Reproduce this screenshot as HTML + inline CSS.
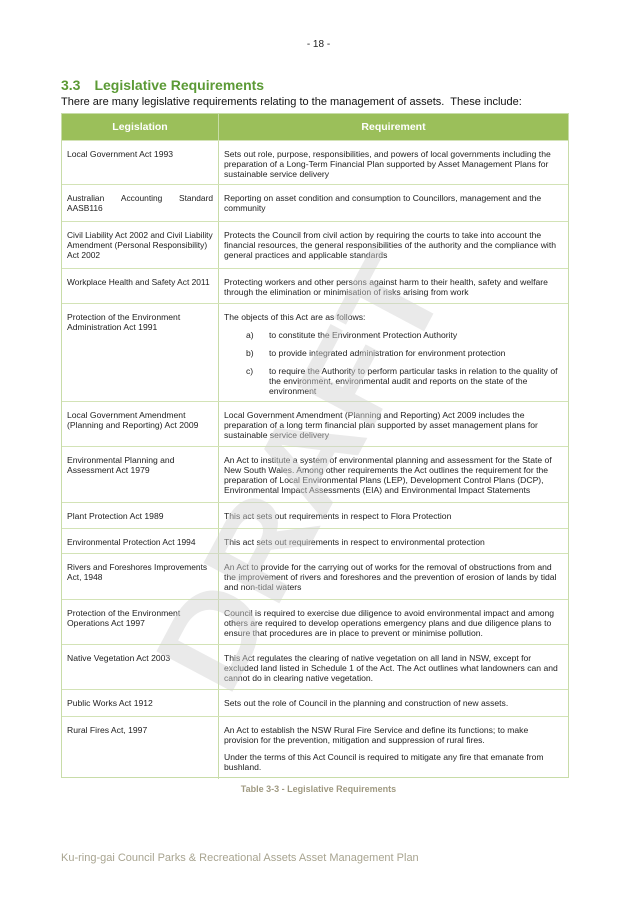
<!DOCTYPE html>
<html><head><meta charset="utf-8"><style>
*{margin:0;padding:0;box-sizing:border-box}
body{width:637px;height:901px;background:#fff;position:relative;overflow:hidden;font-family:"Liberation Sans",sans-serif;color:#222}
.pg{position:absolute;top:39px;left:0;width:637px;text-align:center;font-size:10px}
h2{position:absolute;left:61px;top:77px;font-size:14px;color:#5b9a35;font-weight:bold}
h2 span{margin-left:14px}
.intro{position:absolute;left:61px;top:96px;font-size:11px;color:#111}
.tbl{position:absolute;left:61px;top:113px;width:508px;height:665px;border:1px solid #c8dca8}
.hd{position:absolute;left:0;top:0;width:506px;height:26px;background:#9bbf5a;color:#fff;font-weight:bold;font-size:10.5px}
.hd div{position:absolute;top:7px;text-align:center}
.row{position:absolute;left:0;width:506px;border-top:1.5px solid #d3e3b6;font-size:8.6px;line-height:10px}
.l{position:absolute;left:5px;top:8px;width:152px}
.l2{font-size:8.4px}
.r{position:absolute;left:162px;top:8px;width:336px}
.vl{position:absolute;left:156px;top:0;width:1px;height:665px;background:#c8dca8}
.li{position:relative;padding-left:45px;margin-top:8px}
.li b{font-weight:normal;position:absolute;left:22px}
.cap{position:absolute;top:784px;left:0;width:637px;text-align:center;font-size:9px;font-weight:bold;color:#a09a82}
.ft{position:absolute;left:61px;top:852px;font-size:11px;color:#a8a490}
.wm{position:absolute;left:0;top:0;pointer-events:none}
</style></head><body>
<div class="pg">- 18 -</div>
<h2>3.3<span>Legislative Requirements</span></h2>
<div class="intro">There are many legislative requirements relating to the management of assets.&nbsp; These include:</div>
<div class="tbl">
<div class="hd"><div style="left:0;width:156px">Legislation</div><div style="left:157px;width:349px">Requirement</div></div>
<div class="vl"></div>
<div class="row" style="top:26px;height:44px"><div class="l">Local Government Act 1993</div><div class="r">Sets out role, purpose, responsibilities, and powers of local governments including the preparation of a Long-Term Financial Plan supported by Asset Management Plans for sustainable service delivery</div></div>
<div class="row" style="top:70px;height:37px"><div class="l l2" style="width:146px"><div style="display:flex;justify-content:space-between"><span>Australian</span><span>Accounting</span><span>Standard</span></div>AASB116</div><div class="r">Reporting on asset condition and consumption to Councillors, management and the community</div></div>
<div class="row" style="top:107px;height:47px"><div class="l l2">Civil Liability Act 2002 and Civil Liability Amendment (Personal Responsibility) Act 2002</div><div class="r">Protects the Council from civil action by requiring the courts to take into account the financial resources, the general responsibilities of the authority and the compliance with general practices and applicable standards</div></div>
<div class="row" style="top:154px;height:35px"><div class="l l2">Workplace Health and Safety Act 2011</div><div class="r">Protecting workers and other persons against harm to their health, safety and welfare through the elimination or minimisation of risks arising from work</div></div>
<div class="row" style="top:189px;height:98px"><div class="l">Protection of the Environment Administration Act 1991</div><div class="r">The objects of this Act are as follows:
<div class="li"><b>a)</b>to constitute the Environment Protection Authority</div>
<div class="li"><b>b)</b>to provide integrated administration for environment protection</div>
<div class="li"><b>c)</b>to require the Authority to perform particular tasks in relation to the quality of the environment, environmental audit and reports on the state of the environment</div></div></div>
<div class="row" style="top:287px;height:45px"><div class="l">Local Government Amendment (Planning and Reporting) Act 2009</div><div class="r">Local Government Amendment (Planning and Reporting) Act 2009 includes the preparation of a long term financial plan supported by asset management plans for sustainable service delivery</div></div>
<div class="row" style="top:332px;height:56px"><div class="l">Environmental Planning and Assessment Act 1979</div><div class="r">An Act to institute a system of environmental planning and assessment for the State of New South Wales. Among other requirements the Act outlines the requirement for the preparation of Local Environmental Plans (LEP), Development Control Plans (DCP), Environmental Impact Assessments (EIA) and Environmental Impact Statements</div></div>
<div class="row" style="top:388px;height:26px"><div class="l">Plant Protection Act 1989</div><div class="r">This act sets out requirements in respect to Flora Protection</div></div>
<div class="row" style="top:414px;height:25px"><div class="l l2">Environmental Protection Act 1994</div><div class="r">This act sets out requirements in respect to environmental protection</div></div>
<div class="row" style="top:439px;height:46px"><div class="l l2">Rivers and Foreshores Improvements Act, 1948</div><div class="r">An Act to provide for the carrying out of works for the removal of obstructions from and the improvement of rivers and foreshores and the prevention of erosion of lands by tidal and non-tidal waters</div></div>
<div class="row" style="top:485px;height:45px"><div class="l">Protection of the Environment Operations Act 1997</div><div class="r">Council is required to exercise due diligence to avoid environmental impact and among others are required to develop operations emergency plans and due diligence plans to ensure that procedures are in place to prevent or minimise pollution.</div></div>
<div class="row" style="top:530px;height:45px"><div class="l">Native Vegetation Act 2003</div><div class="r">This Act regulates the clearing of native vegetation on all land in NSW, except for excluded land listed in Schedule 1 of the Act. The Act outlines what landowners can and cannot do in clearing native vegetation.</div></div>
<div class="row" style="top:575px;height:27px"><div class="l">Public Works Act 1912</div><div class="r">Sets out the role of Council in the planning and construction of new assets.</div></div>
<div class="row" style="top:602px;height:62px"><div class="l">Rural Fires Act, 1997</div><div class="r">An Act to establish the NSW Rural Fire Service and define its functions; to make provision for the prevention, mitigation and suppression of rural fires.<div style="margin-top:7px">Under the terms of this Act Council is required to mitigate any fire that emanate from bushland.</div></div></div>
</div>
<svg class="wm" width="637" height="901"><text x="0" y="0" transform="translate(228,700) rotate(-62)" font-family="Liberation Sans" font-weight="bold" font-size="125" fill="#d0d0d0" fill-opacity="0.45" textLength="470" lengthAdjust="spacingAndGlyphs">DRAFT</text></svg>
<div class="cap">Table 3-3 - Legislative Requirements</div>
<div class="ft">Ku-ring-gai Council Parks &amp; Recreational Assets Asset Management Plan</div>
</body></html>
